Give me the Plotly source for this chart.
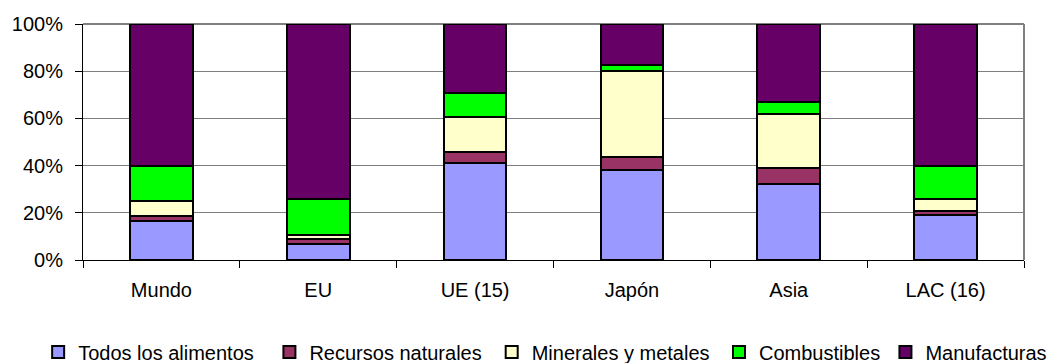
import plotly.graph_objects as go

regions = ["Mundo", "EU", "UE (15)", "Japón", "Asia", "LAC (16)"]

alimentos = [16.5, 6.6, 41.0, 38.1, 32.1, 19.1]
recursos = [2.3, 2.2, 4.9, 5.4, 6.8, 1.8]
minerales = [6.1, 1.8, 14.6, 36.7, 22.8, 4.8]
combustibles = [14.9, 15.1, 10.1, 2.4, 5.4, 14.3]
manufacturas = [60.2, 74.3, 29.4, 17.4, 32.9, 60.0]

series_names = ["Todos los alimentos", "Recursos naturales", "Minerales y metales",
                "Combustibles", "Manufacturas"]
series_values = [alimentos, recursos, minerales, combustibles, manufacturas]
series_colors = ["#9999FF", "#993366", "#FFFFCC", "#00FF00", "#660066"]

y_ticks = [0, 20, 40, 60, 80, 100]
y_tick_labels = ["0%", "20%", "40%", "60%", "80%", "100%"]

font_family = "Arial, 'Liberation Sans', sans-serif"

# Plot-area geometry in pixels
W, H = 1059, 363
M_L, M_R, M_T, M_B = 80, 35, 24, 103
plot_w = W - M_L - M_R

# Left edge (px) of each legend entry, one legend per series
legend_left_px = [35, 267, 490, 718, 885]

fig = go.Figure()
for i, (name, values, color) in enumerate(zip(series_names, series_values, series_colors)):
    lg = "legend" if i == 0 else f"legend{i + 1}"
    fig.add_trace(go.Bar(
        name=name,
        x=regions,
        y=values,
        legend=lg,
        marker=dict(color=color, line=dict(color="#000000", width=2)),
    ))

legend_common = dict(
    orientation="h",
    xanchor="left",
    yref="container",
    y=1 - 352 / H,
    yanchor="middle",
    font=dict(size=20, family=font_family, color="#000000"),
    itemwidth=30,
    bgcolor="rgba(0,0,0,0)",
)
legend_layout = {}
for i, px in enumerate(legend_left_px):
    key = "legend" if i == 0 else f"legend{i + 1}"
    legend_layout[key] = dict(legend_common, x=(px - M_L) / plot_w)

fig.update_layout(
    barmode="stack",
    bargap=0.6,
    width=W,
    height=H,
    margin=dict(l=M_L, r=M_R, t=M_T, b=M_B),
    paper_bgcolor="white",
    plot_bgcolor="white",
    font=dict(family=font_family, size=20, color="#000000"),
    showlegend=True,
    xaxis=dict(
        type="category",
        showline=True,
        linecolor="#000000",
        linewidth=1,
        ticks="outside",
        tickson="boundaries",
        ticklen=7,
        tickcolor="#000000",
        showgrid=False,
        ticklabelstandoff=12,
    ),
    yaxis=dict(
        range=[0, 100],
        tickvals=y_ticks,
        ticktext=y_tick_labels,
        showline=True,
        linecolor="#000000",
        linewidth=1,
        ticks="outside",
        ticklen=7,
        tickcolor="#000000",
        showgrid=True,
        gridcolor="#7f7f7f",
        gridwidth=1,
        zeroline=False,
        ticklabelstandoff=8,
    ),
    **legend_layout,
)

# Plot-area frame: gray border on the top and right edges
fig.add_shape(type="line", xref="paper", yref="paper", x0=0, x1=1, y0=1, y1=1,
              line=dict(color="#808080", width=2), layer="below")
fig.add_shape(type="line", xref="paper", yref="paper", x0=1, x1=1, y0=0, y1=1,
              line=dict(color="#808080", width=2), layer="below")

fig.write_html("out.html")
